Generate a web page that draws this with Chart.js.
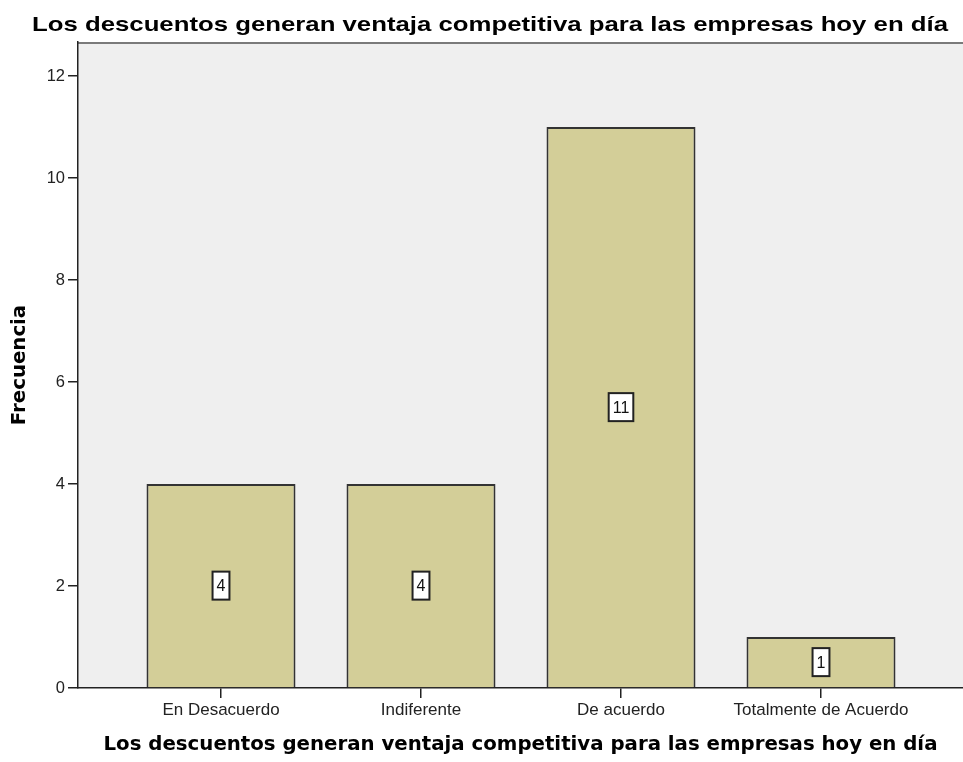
<!DOCTYPE html>
<html>
<head>
<meta charset="utf-8">
<script src="https://cdn.jsdelivr.net/npm/chart.js@4.4.1/dist/chart.umd.min.js"></script>
<style>
  html, body { margin: 0; padding: 0; background: #ffffff; }
  #wrap { width: 963px; height: 762px; }
</style>
</head>
<body>
<div id="wrap"><canvas id="c" width="963" height="762"></canvas></div>
<script>
const chartTitle = "Los descuentos generan ventaja competitiva para las empresas hoy en día";
const xAxisTitle = "Los descuentos generan ventaja competitiva para las empresas hoy en día";
const yAxisTitle = "Frecuencia";
const categories = ["En Desacuerdo", "Indiferente", "De acuerdo", "Totalmente de Acuerdo"];
const frequencies = [4, 4, 11, 1];
const yTickValues = [0, 2, 4, 6, 8, 10, 12];

const points = categories.map((c, i) => ({ x: i, y: frequencies[i] }));

const bgPlugin = {
  id: 'plotBg',
  beforeDraw(chart) {
    const { ctx, chartArea: a } = chart;
    ctx.save();
    ctx.fillStyle = '#efefef';
    ctx.fillRect(a.left, a.top, a.right - a.left, a.bottom - a.top);
    ctx.strokeStyle = '#7a7a7a';
    ctx.lineWidth = 2;
    ctx.beginPath();
    ctx.moveTo(a.left, a.top + 1);
    ctx.lineTo(a.right, a.top + 1);
    ctx.stroke();
    ctx.restore();
  }
};

const titlePlugin = {
  id: 'stretchTitle',
  afterDraw(chart) {
    const ctx = chart.ctx;
    ctx.save();
    ctx.font = 'bold 21px "Liberation Sans", Arial, sans-serif';
    ctx.fillStyle = '#000';
    ctx.textBaseline = 'middle';
    ctx.textAlign = 'left';
    const w = ctx.measureText(chartTitle).width;
    const targetLeft = 32, targetWidth = 916;
    const s = targetWidth / w;
    ctx.translate(targetLeft, 25);
    ctx.scale(s, 1);
    ctx.fillText(chartTitle, 0, 0);
    ctx.restore();
  }
};

const labelPlugin = {
  id: 'boxLabels',
  afterDatasetsDraw(chart) {
    const ctx = chart.ctx;
    const meta = chart.getDatasetMeta(0);
    ctx.save();
    ctx.font = '16px "Liberation Sans", Arial, sans-serif';
    ctx.textAlign = 'center';
    ctx.textBaseline = 'middle';
    meta.data.forEach((bar, i) => {
      const txt = String(frequencies[i]);
      const cx = bar.x;
      const cy = (bar.y + bar.base) / 2;
      const w = ctx.measureText(txt).width + 8;
      const h = 28;
      ctx.fillStyle = '#ffffff';
      ctx.fillRect(cx - w / 2, cy - h / 2, w, h);
      ctx.strokeStyle = '#222';
      ctx.lineWidth = 2;
      ctx.strokeRect(cx - w / 2, cy - h / 2, w, h);
      ctx.fillStyle = '#111';
      ctx.fillText(txt, cx, cy + 1);
    });
    ctx.restore();
  }
};

new Chart(document.getElementById('c'), {
  type: 'bar',
  data: {
    datasets: [{
      data: points,
      backgroundColor: 'rgb(211,206,152)',
      borderColor: '#333333',
      borderWidth: 2,
      borderSkipped: 'start',
      barPercentage: 0.745,
      categoryPercentage: 1.0
    }]
  },
  options: {
    responsive: false,
    devicePixelRatio: 1,
    animation: false,
    layout: { padding: { top: 42, right: 0, bottom: 0, left: 0 } },
    plugins: {
      legend: { display: false },
      title: { display: false },
      tooltip: { enabled: false }
    },
    scales: {
      x: {
        type: 'linear',
        min: -0.715,
        max: 3.71,
        offset: false,
        z: 1,
        afterBuildTicks(scale) { scale.ticks = categories.map((c, i) => ({ value: i })); },
        afterFit(scale) { scale.height = 74; },
        ticks: {
          autoSkip: false,
          maxRotation: 0,
          padding: 2,
          color: '#222',
          font: { family: '"Liberation Sans", Arial, sans-serif', size: 17 },
          callback: (v) => categories[v]
        },
        grid: { display: true, offset: false, drawOnChartArea: false, drawTicks: true, tickLength: 10, tickColor: '#222', lineWidth: 1.5 },
        border: { display: true, color: '#222', width: 1.5 },
        title: {
          display: true,
          text: xAxisTitle,
          color: '#000',
          font: { family: '"DejaVu Sans", Verdana, sans-serif', size: 19.75, weight: 'bold' },
          padding: { top: 0, bottom: 5 }
        }
      },
      y: {
        min: 0,
        max: 12.667,
        z: 1,
        afterBuildTicks(scale) { scale.ticks = yTickValues.map(v => ({ value: v })); },
        afterFit(scale) { scale.width = 78; },
        ticks: {
          padding: 3,
          color: '#222',
          font: { family: '"Liberation Sans", Arial, sans-serif', size: 16.5 }
        },
        grid: { display: true, drawOnChartArea: false, drawTicks: true, tickLength: 10, tickColor: '#222', lineWidth: 1.5 },
        border: { display: true, color: '#222', width: 1.5 },
        title: {
          display: true,
          text: yAxisTitle,
          color: '#000',
          font: { family: '"DejaVu Sans", Verdana, sans-serif', size: 19.75, weight: 'bold' },
          padding: { top: 8, bottom: 0 }
        }
      }
    }
  },
  plugins: [bgPlugin, labelPlugin, titlePlugin]
});
</script>
</body>
</html>
